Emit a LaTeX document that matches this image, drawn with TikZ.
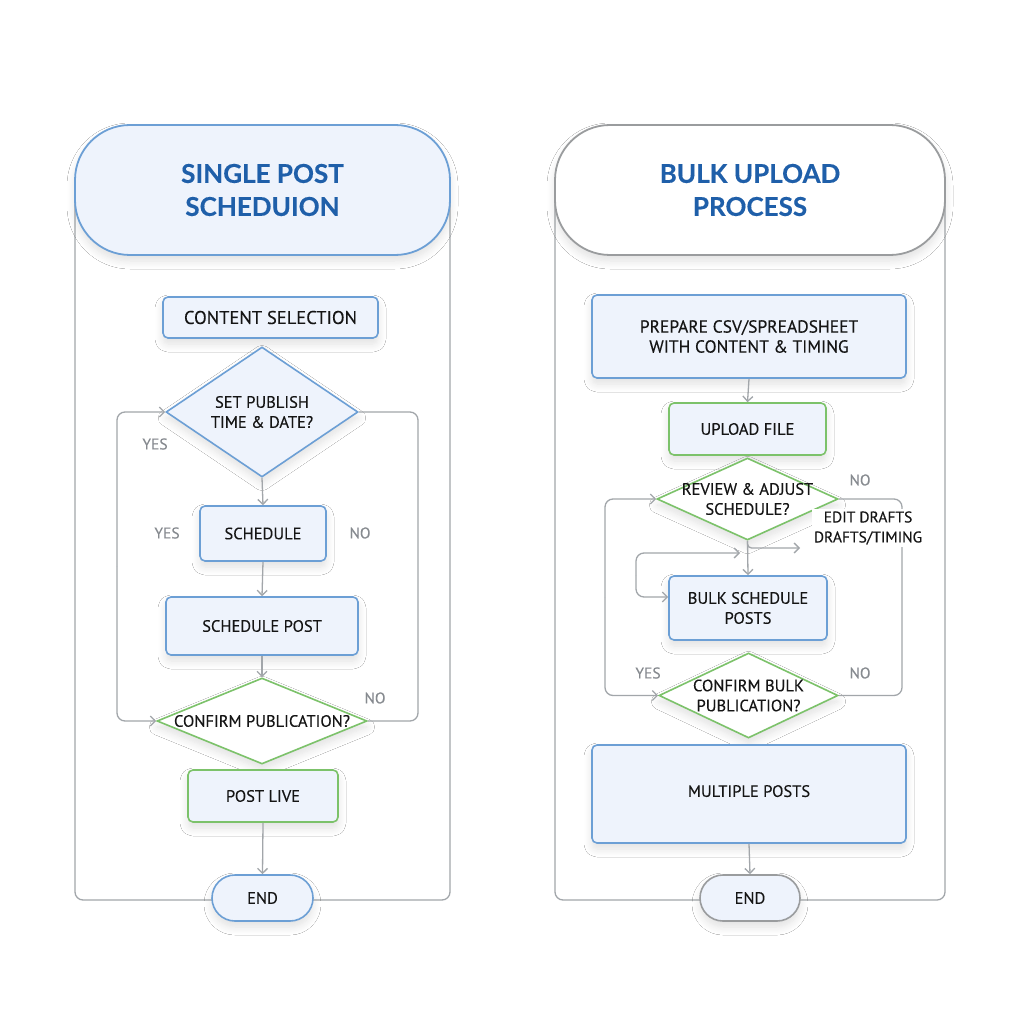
\documentclass[tikz,border=0pt]{standalone}
\usepackage{fontspec}
\setmainfont{PT Sans}[FakeBold=0.25]
\newfontfamily\titlefont{Lato}[BoldFeatures={FakeBold=0.3}]
\usetikzlibrary{shapes.geometric,arrows.meta,shadows.blur}
\definecolor{bblue}{HTML}{6C9FD5}
\definecolor{bfill}{HTML}{EEF3FC}
\definecolor{ggreen}{HTML}{7CC26A}
\definecolor{lgray}{HTML}{A2A6AA}
\definecolor{tgray}{HTML}{868A8F}
\definecolor{tblue}{HTML}{1F5FA9}
\definecolor{ink}{HTML}{151515}
\definecolor{hgray}{HTML}{9A9C9E}
\tikzset{
  shad/.style={blur shadow={shadow blur steps=10, shadow xshift=0pt, shadow yshift=-6pt, shadow opacity=12, shadow blur radius=8pt}},
  box/.style={draw=bblue, fill=bfill, line width=1.6pt, rounded corners=5pt, font=\fontsize{16.5}{20}\selectfont, text=ink, align=center, inner sep=0pt, shad},
  hdr/.style={line width=1.8pt, rounded corners=55pt, font=\titlefont\bfseries\fontsize{26}{33}\selectfont, text=tblue, align=center, inner sep=0pt, shad},
  dia/.style={diamond, draw=bblue, fill=bfill, line width=1.6pt, inner sep=0pt, shad},
  dtxt/.style={font=\fontsize{16.5}{20}\selectfont, text=ink, align=center},
  arr/.style={draw=lgray, line width=1.3pt, rounded corners=8pt, -{Straight Barb[length=5pt,width=10pt]}},
  conn/.style={draw=lgray, line width=1.3pt, rounded corners=8pt},
  frame/.style={draw=lgray, line width=1.3pt, rounded corners=8pt},
  lab/.style={text=tgray, font=\fontsize{15.5}{18}\selectfont},
}
\begin{document}
\begin{tikzpicture}[x=1pt,y=-1pt]
\fill[white] (0,0) rectangle (1024,1024);
\useasboundingbox (0,0) rectangle (1024,1024);

% ---------- left panel ----------
\draw[frame] (75,200) -- (75,900) -- (450,900) -- (450,200);
\node[hdr, draw=bblue, fill=bfill, minimum width=375, minimum height=130] (h1) at (262.5,190) {SINGLE POST\\SCHEDUION};
\node[box, font=\fontsize{18.5}{22}\selectfont, minimum width=215, minimum height=41] (cs) at (270.5,317.5) {CONTENT SELECTION};
\node[dia, minimum width=192, minimum height=130, label={[dtxt]center:SET PUBLISH\\TIME \& DATE?}] (d1) at (262,412) {};
\node[box, minimum width=126, minimum height=55] (s1) at (263,533.5) {SCHEDULE};
\node[box, minimum width=192, minimum height=58] (sp) at (262,626) {SCHEDULE POST};
\node[dia, draw=ggreen, fill=white, minimum width=210, minimum height=86, label={[dtxt]center:CONFIRM PUBLICATION?}] (c1) at (262,721) {};
\node[box, draw=ggreen, minimum width=150, minimum height=52] (pl) at (263,796) {POST LIVE};
\node[box, rounded corners=23pt, minimum width=101, minimum height=46] (e1) at (262.5,898) {END};

\draw[arr] (d1.south) -- (s1.north);
\draw[arr] (s1.south) -- (sp.north);
\draw[arr] (sp.south) -- (c1.north);
\draw[arr] (pl.south) -- (e1.north);
\coordinate (L1) at (117,566);
\draw[arr] (L1) |- (d1.west);
\draw[arr] (L1) |- (c1.west);
\coordinate (R1) at (418,566);
\draw[conn] (d1.east) -| (R1) |- (c1.east);

\node[lab] (y1) at (155,444) {YES};
\node[lab] (y2) at (167,533) {YES};
\node[lab] (n1) at (360,533) {NO};
\node[lab] (n2) at (375,698) {NO};

% ---------- right panel ----------
\draw[frame] (555,200) -- (555,900) -- (945,900) -- (945,200);
\node[hdr, draw=hgray, fill=white, minimum width=390, minimum height=130] (h2) at (750,190) {BULK UPLOAD\\PROCESS};
\node[box, font=\fontsize{17.5}{20}\selectfont, minimum width=314, minimum height=83] (pr) at (749,336.5) {PREPARE CSV/SPREADSHEET\\WITH CONTENT \& TIMING};
\node[box, draw=ggreen, minimum width=157, minimum height=52] (uf) at (747.5,429) {UPLOAD FILE};
\node[dia, draw=ggreen, fill=white, minimum width=181, minimum height=82, label={[dtxt]center:REVIEW \& ADJUST\\SCHEDULE?}] (d2) at (747.5,499) {};
\node[box, minimum width=158, minimum height=64] (bs) at (748,608) {BULK SCHEDULE\\POSTS};
\node[dia, draw=ggreen, fill=white, minimum width=179, minimum height=85, label={[dtxt]center:CONFIRM BULK\\PUBLICATION?}] (c2) at (748.5,695.5) {};
\node[box, minimum width=314, minimum height=98] (mp) at (749,794) {\raisebox{6pt}{MULTIPLE POSTS}};
\node[box, draw=hgray, rounded corners=23pt, minimum width=100, minimum height=46] (e2) at (750,898) {END};

\draw[arr] (pr.south) -- (uf.north);
\draw[arr] (d2.south) -- (bs.north);
\draw[arr] (mp.south) -- (e2.north);
\coordinate (et) at (800,548);
\draw[arr, rounded corners=4pt] (d2.south) |- (et);
\coordinate (L3) at (636,575);
\coordinate (m3) at (740,553);
\draw[arr] (L3) |- (m3);
\draw[arr] (L3) |- ([yshift=11pt]bs.west);
\coordinate (L2) at (605,597);
\draw[arr] (L2) |- (d2.west);
\draw[arr] (L2) |- (c2.west);
\coordinate (R2) at (902,597);
\draw[conn] (d2.east) -| (R2) |- (c2.east);

\node[lab] (n3) at (860,480) {NO};
\node[fill=white, inner sep=2pt, text=ink, align=center, font=\fontsize{15.5}{20}\selectfont] (ed) at (868,528) {EDIT DRAFTS\\DRAFTS/TIMING};
\node[lab] (y3) at (648,673) {YES};
\node[lab] (n4) at (860,673) {NO};
\end{tikzpicture}
\end{document}
